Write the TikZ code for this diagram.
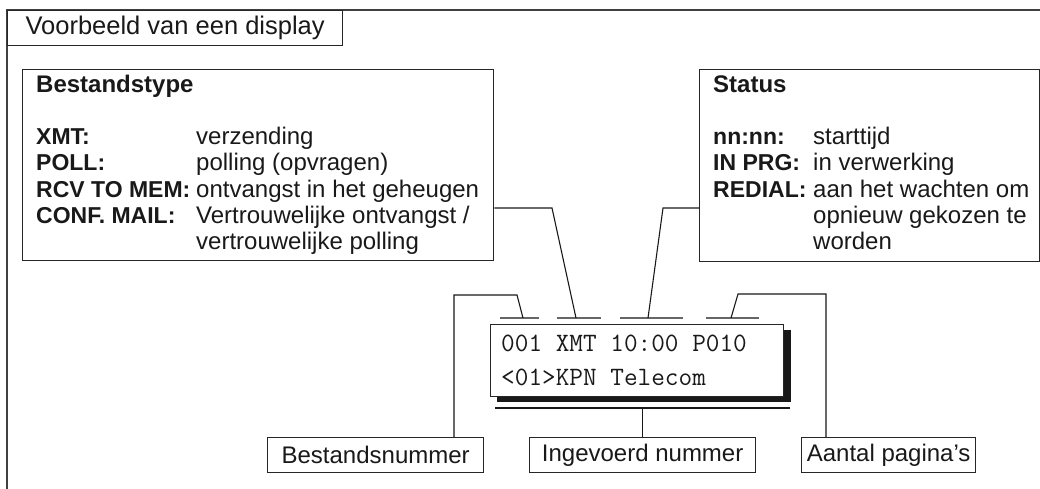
\documentclass[tikz,border=0pt]{standalone}
\usepackage{fontspec}
\setmainfont{Liberation Sans}
\begin{document}
\begin{tikzpicture}[x=1pt,y=-1pt,
  frame/.style={draw=black!75, line width=1.3pt},
  box/.style={draw=black!85, line width=1.3pt, inner sep=0pt, anchor=north west},
  head/.style={anchor=base west, inner sep=0pt, font=\bfseries\fontsize{24}{28}\selectfont, text=black!90},
  lbl/.style={anchor=base west, inner sep=0pt, font=\bfseries\fontsize{23}{28}\selectfont, text=black!90},
  dsc/.style={anchor=base west, inner sep=0pt, font=\fontsize{24}{28}\selectfont, text=black!90},
  conn/.style={draw=black!90, line width=1.1pt},
  bar/.style={draw=black!60, line width=2pt},
  lab/.style={draw=black!85, line width=1.3pt, minimum height=35pt, inner sep=0pt, anchor=north west, font=\fontsize{24}{28}\selectfont, text=black!90},
  mono/.style={anchor=base west, inner sep=0pt, font=\ttfamily\fontsize{26.5}{30}\selectfont, text=black!90}]
\useasboundingbox (0,0) rectangle (1040,489);

% outer frame and title
\coordinate (fbl) at (7,489);
\coordinate (ftr) at (1040,10);
\draw[frame] (fbl) |- (ftr);
\node[box, minimum width=335pt, minimum height=35pt, font=\fontsize{25.5}{28}\selectfont, text=black!90] (title) at (7,10) {Voorbeeld van een display};

% Bestandstype box
\node[box, minimum width=471pt, minimum height=191pt] (btype) at (22,69) {};
\node[head] (bh) at (36,93) {Bestandstype};
\node[lbl] (bx) at (36,145) {XMT:};
\node[dsc] (bxd) at (196,145) {verzending};
\node[lbl] (bp) at (36,171) {POLL:};
\node[dsc] (bpd) at (196,171) {polling (opvragen)};
\node[lbl] (br) at (36,197) {RCV TO MEM:};
\node[dsc] (brd) at (196,197) {ontvangst in het geheugen};
\node[lbl] (bc) at (36,223) {CONF. MAIL:};
\node[dsc] (bcd) at (196,223) {Vertrouwelijke ontvangst /};
\node[dsc] (bcd2) at (196,249) {vertrouwelijke polling};

% Status box
\node[box, minimum width=340pt, minimum height=192pt] (status) at (699,69) {};
\node[head] (sh) at (713,93) {Status};
\node[lbl] (sn) at (713,145) {nn:nn:};
\node[dsc] (snd) at (813,145) {starttijd};
\node[lbl] (si) at (713,171) {IN PRG:};
\node[dsc] (sid) at (813,171) {in verwerking};
\node[lbl] (sr) at (713,197) {REDIAL:};
\node[dsc] (srd) at (813,197) {aan het wachten om};
\node[dsc] (srd2) at (813,223) {opnieuw gekozen te};
\node[dsc] (srd3) at (813,249) {worden};

% display
\node[fill=black!90, minimum width=294pt, minimum height=72pt, inner sep=0pt, anchor=north west] (dshadow) at (497,330) {};
\node[box, fill=white, minimum width=293pt, minimum height=72pt] (disp) at (490,324) {};
\node[mono] (d1) at (501,351) {001 XMT 10:00 P010};
\node[mono] (d2) at (501,385) {<01>KPN Telecom};

% bars above the display
\coordinate (b1l) at (500,318); \coordinate (b1r) at (539,318); \coordinate (b1m) at (523,318);
\coordinate (b2l) at (557,318); \coordinate (b2r) at (601,318); \coordinate (b2m) at (576,318);
\coordinate (b3l) at (620,318); \coordinate (b3r) at (683,318); \coordinate (b3m) at (648,318);
\coordinate (b4l) at (706,318); \coordinate (b4r) at (759,318); \coordinate (b4m) at (731,318);
\draw[bar] (b1l) -- (b1r);
\draw[bar] (b2l) -- (b2r);
\draw[bar] (b3l) -- (b3r);
\draw[bar] (b4l) -- (b4r);

% line below the display
\coordinate (ul) at (495,408);
\coordinate (ur) at (790,408);
\draw[conn] (ul) -- (ur);

% bottom labels
\node[lab, minimum width=216pt] (bnum) at (267,437) {Bestandsnummer};
\node[lab, minimum width=226pt] (ingev) at (529,437) {Ingevoerd nummer};
\node[lab, minimum width=174pt] (aant) at (801,437) {Aantal pagina’s};

% connectors
\coordinate (t1) at (552,208);
\draw[conn] (btype.east |- t1) -- (t1) -- (b2m);
\coordinate (s1) at (663,208);
\draw[conn] (status.west |- s1) -- (s1) -- (b3m);
\coordinate (l1) at (454,295);
\coordinate (l2) at (517,295);
\draw[conn] (bnum.north -| l1) -- (l1) -- (l2) -- (b1m);
\coordinate (r1) at (826,294);
\coordinate (r2) at (738,294);
\draw[conn] (aant.north -| r1) -- (r1) -- (r2) -- (b4m);
\draw[conn] (ingev.north) -- (ingev.north |- ul);
\end{tikzpicture}
\end{document}
